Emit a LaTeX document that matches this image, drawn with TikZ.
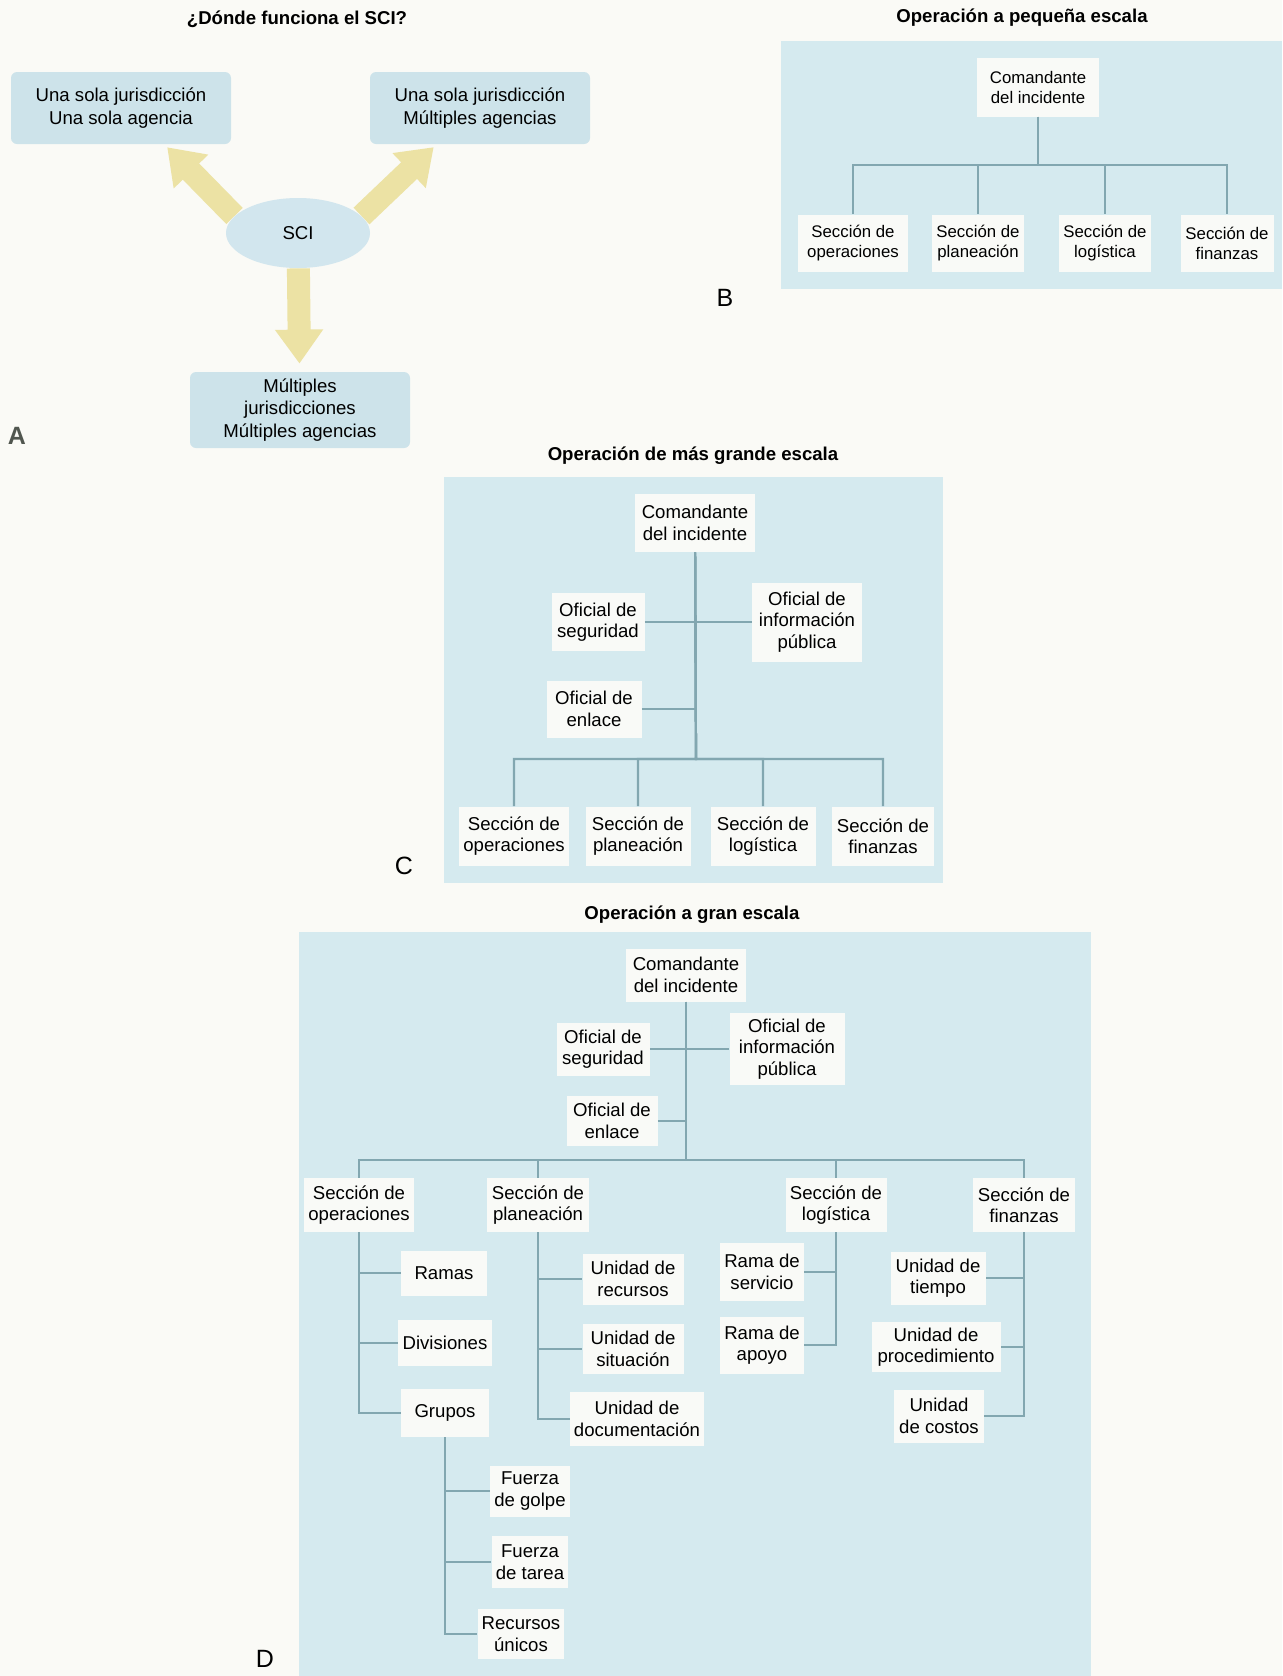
\documentclass[tikz,border=0pt]{standalone}
\usepackage{fontspec}
\setmainfont{Liberation Sans}
\usepackage{xcolor}
\usepackage{tikz}
\usetikzlibrary{arrows.meta, shapes.geometric, backgrounds}
\definecolor{PaperTone}{HTML}{FAFAF6}
\definecolor{PanelBlue}{HTML}{D5EAEF}
\definecolor{BoxWhite}{HTML}{F9FAF7}
\definecolor{LinkTeal}{HTML}{82A7B0}
\definecolor{ScopeBlue}{HTML}{CDE3EA}
\definecolor{HubBlue}{HTML}{D2E6EE}
\definecolor{ArrowSand}{HTML}{ECE2A4}
\definecolor{TagGray}{HTML}{50564F}
\newcommand{\chartsize}{\fontsize{9.3}{10.7}\selectfont}
\newcommand{\smallchart}{\fontsize{8.4}{10}\selectfont}
\newcommand{\scopesize}{\fontsize{9.3}{11.2}\selectfont}
\tikzset{
  panel/.style={fill=PanelBlue, draw=none},
  heading/.style={font=\bfseries\chartsize, text=black},
  tag/.style={font=\fontsize{12.5}{14}\selectfont, text=black},
  scopebox/.style={fill=ScopeBlue, rounded corners=3pt, align=center, font=\scopesize,
    minimum width=110pt, minimum height=36pt},
  hub/.style={ellipse, fill=HubBlue, minimum width=72pt, minimum height=35pt, font=\scopesize},
  spread/.style={-{Triangle[width=23pt, length=17pt]}, line width=11.5pt, color=ArrowSand},
  post/.style={fill=BoxWhite, align=center, inner xsep=2pt, inner ysep=3pt, font=\chartsize},
  smallpost/.style={post, font=\smallchart, minimum height=28.5pt},
  link/.style={draw=LinkTeal, line width=1.1pt},
}

\begin{document}
\begin{tikzpicture}[x=0.5pt, y=-0.5pt]
  % Paper
  \begin{scope}[on background layer]
    \fill[PaperTone] (0,0) rectangle (1282,1676);
  \end{scope}
  \useasboundingbox (0,0) rectangle (1282,1676);

  % ---------- A: where the system works ----------
  \node[heading] (titleA) at (297,19) {¿Dónde funciona el SCI?};
  \node[scopebox] (single) at (121,108) {Una sola jurisdicción\\Una sola agencia};
  \node[scopebox] (multiagency) at (480,108) {Una sola jurisdicción\\Múltiples agencias};
  \node[scopebox, minimum height=38pt] (multijuris) at (300,410)
    {Múltiples\\jurisdicciones\\Múltiples agencias};
  \node[hub] (sci) at (298,233) {SCI};
  \begin{scope}[on background layer]
    \draw[spread, shorten >=2pt] (sci.165) -- (single.-40);
    \draw[spread, shorten >=2pt] (sci.15) -- (multiagency.-140);
    \draw[spread, shorten >=4pt] (sci) -- (multijuris);
  \end{scope}
  \node[tag, font=\bfseries\fontsize{12.5}{14}\selectfont, text=TagGray] (tagA) at (17,436) {A};

  % ---------- B: small incident ----------
  \fill[panel] (781,41) rectangle (1282,289);
  \node[heading] (titleB) at (1022,18) {Operación a pequeña escala};
  \node[smallpost, minimum width=61pt, minimum height=29.5pt] (chiefB) at (1038,87) {Comandante\\del incidente};
  \node[smallpost, minimum width=55pt] (opsB) at (853,243) {Sección de\\operaciones};
  \node[smallpost, minimum width=45pt] (planB) at (978,243) {Sección de\\planeación};
  \node[smallpost, minimum width=45pt] (logB) at (1105,243) {Sección de\\logística};
  \node[smallpost, minimum width=46.5pt] (finB) at (1227,243) {Sección de\\finanzas};
  \coordinate (busB) at (1038,165);
  \foreach \s in {opsB,planB,logB,finB}
    \draw[link] (chiefB) -- (busB) -| (\s);
  \node[tag] (tagB) at (725,298) {B};

  % ---------- C: larger incident ----------
  \fill[panel] (444,477) rectangle (943,883);
  \node[heading] (titleC) at (693,456) {Operación de más grande escala};
  \node[post, minimum width=60pt, minimum height=29pt] (chiefC) at (695,523) {Comandante\\del incidente};
  \node[post, minimum width=46.5pt, minimum height=29pt] (safetyC) at (598,622) {Oficial de\\seguridad};
  \node[post, minimum width=55pt, minimum height=39.5pt] (pioC) at (807,622) {Oficial de\\información\\pública};
  \node[post, minimum width=47.5pt, minimum height=28.5pt] (liaisonC) at (594,709) {Oficial de\\enlace};
  \node[post, minimum width=52.5pt, minimum height=29.5pt] (opsC) at (514,836) {Sección de\\operaciones};
  \node[post, minimum width=52.5pt, minimum height=29.5pt] (planC) at (638,836) {Sección de\\planeación};
  \node[post, minimum width=52.5pt, minimum height=29.5pt] (logC) at (763,836) {Sección de\\logística};
  \node[post, minimum width=51pt, minimum height=29.5pt] (finC) at (883,836) {Sección de\\finanzas};
  \coordinate (busC) at (696,759);
  \foreach \s in {opsC,planC,logC,finC}
    \draw[link] (chiefC) -- (busC) -| (\s);
  \draw[link] (safetyC) -- (pioC);
  \draw[link] (liaisonC) -- (liaisonC -| busC);
  \node[tag] (tagC) at (404,866) {C};

  % ---------- D: large incident ----------
  \fill[panel] (299,932) rectangle (1091,1676);
  \node[heading] (titleD) at (692,915) {Operación a gran escala};
  \node[post, minimum width=60pt, minimum height=26.5pt] (chiefD) at (686,975) {Comandante\\del incidente};
  \node[post, minimum width=46.5pt, minimum height=26.5pt] (safetyD) at (603,1049) {Oficial de\\seguridad};
  \node[post, minimum width=57.5pt, minimum height=34pt] (pioD) at (787,1049) {Oficial de\\información\\pública};
  \node[post, minimum width=45.5pt, minimum height=25pt] (liaisonD) at (612,1121) {Oficial de\\enlace};
  \node[post, minimum width=53.5pt, minimum height=27pt] (opsD) at (359,1205) {Sección de\\operaciones};
  \node[post, minimum width=51pt, minimum height=27pt] (planD) at (538,1205) {Sección de\\planeación};
  \node[post, minimum width=50.5pt, minimum height=27pt] (logD) at (836,1205) {Sección de\\logística};
  \node[post, minimum width=51pt, minimum height=27pt] (finD) at (1024,1205) {Sección de\\finanzas};
  \coordinate (busD) at (686,1160);
  \foreach \s in {opsD,planD,logD,finD}
    \draw[link] (chiefD) -- (busD) -| (\s);
  \draw[link] (safetyD) -- (pioD);
  \draw[link] (liaisonD) -- (liaisonD -| busD);

  % operations branch
  \node[post, minimum width=43pt, minimum height=22.5pt] (ramas) at (444,1273) {Ramas};
  \node[post, minimum width=47pt, minimum height=23pt] (divisiones) at (445,1343) {Divisiones};
  \node[post, minimum width=44pt, minimum height=24pt] (grupos) at (445,1413) {Grupos};
  \foreach \u in {ramas,divisiones,grupos}
    \draw[link] (opsD) |- (\u);
  \node[post, minimum width=36.5pt, minimum height=25.5pt] (golpe) at (530,1491) {Fuerza\\de golpe};
  \node[post, minimum width=36.5pt, minimum height=26pt] (tarea) at (530,1562) {Fuerza\\de tarea};
  \node[post, minimum width=40pt, minimum height=25pt] (unicos) at (521,1634) {Recursos\\únicos};
  \foreach \u in {golpe,tarea,unicos}
    \draw[link] (grupos) |- (\u);

  % planning units
  \node[post, minimum width=50.5pt, minimum height=25.5pt] (recursos) at (633,1279) {Unidad de\\recursos};
  \node[post, minimum width=50.5pt, minimum height=25pt] (situacion) at (633,1349) {Unidad de\\situación};
  \node[post, minimum width=65pt, minimum height=27pt] (documentos) at (637,1419) {Unidad de\\documentación};
  \foreach \u in {recursos,situacion,documentos}
    \draw[link] (planD) |- (\u);

  % logistics branches
  \node[post, minimum width=42pt, minimum height=29pt] (servicio) at (762,1272) {Rama de\\servicio};
  \node[post, minimum width=42pt, minimum height=28.5pt] (apoyo) at (762,1345) {Rama de\\apoyo};
  \foreach \u in {servicio,apoyo}
    \draw[link] (logD) |- (\u);

  % finance units
  \node[post, minimum width=47.5pt, minimum height=26.5pt] (tiempo) at (938,1278) {Unidad de\\tiempo};
  \node[post, minimum width=64.5pt, minimum height=24.5pt] (procedimiento) at (936,1347) {Unidad de\\procedimiento};
  \node[post, minimum width=45pt, minimum height=26.5pt] (costos) at (939,1416) {Unidad\\de costos};
  \foreach \u in {tiempo,procedimiento,costos}
    \draw[link] (finD) |- (\u);
  \node[tag] (tagD) at (265,1659) {D};
\end{tikzpicture}
\end{document}
